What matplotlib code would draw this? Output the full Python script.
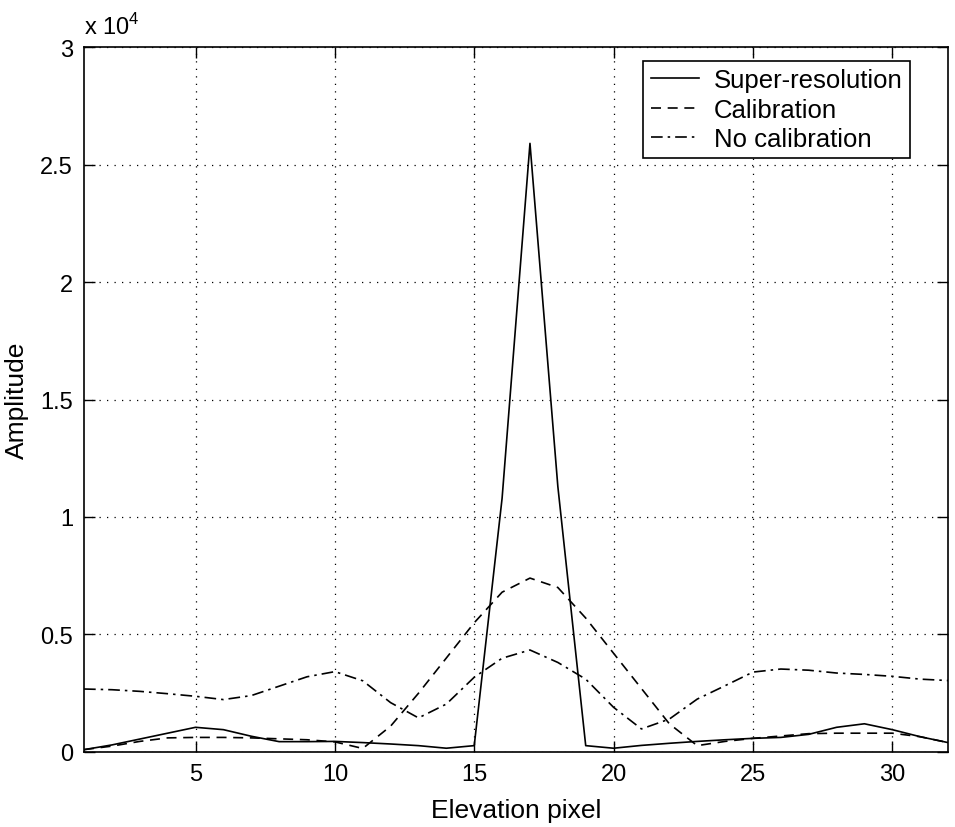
import matplotlib
matplotlib.use('Agg')
from matplotlib import pyplot as plt
from matplotlib.ticker import FuncFormatter
import numpy as np

plt.rcParams['font.family'] = ['Liberation Sans', 'DejaVu Sans']
plt.rcParams['mathtext.fontset'] = 'custom'
plt.rcParams['mathtext.rm'] = 'Liberation Sans'

# elevation pixel index
pixels = np.arange(1, 33)

# amplitudes
super_res = [100, 300, 550, 800, 1050, 950, 670, 440, 440, 450, 400, 340, 270, 160, 270, 10800,
             25900, 11300, 270, 160, 280, 370, 450, 520, 580, 620, 750, 1050, 1200, 950, 650, 400]
calibration = [100, 250, 450, 600, 620, 620, 600, 560, 520, 430, 150, 1100, 2500, 4000, 5500, 6800,
               7400, 7000, 5700, 4200, 2700, 1200, 270, 450, 580, 680, 780, 800, 800, 800, 650, 400]
no_cal = [2680, 2650, 2580, 2480, 2370, 2230, 2400, 2800, 3200, 3420, 3030, 2100, 1450, 2040, 3180, 3990,
          4340, 3810, 3100, 1900, 980, 1400, 2250, 2820, 3400, 3530, 3480, 3360, 3300, 3220, 3100, 3040]

labels = ['Super-resolution', 'Calibration', 'No calibration']
xticks = [5, 10, 15, 20, 25, 30]
yticks = [0, 5000, 10000, 15000, 20000, 25000, 30000]

fig = plt.figure(figsize=(9.55, 8.28), dpi=100)
ax = fig.add_axes([0.088, 0.0906, 0.9047, 0.8514])

lw = 1.2
ax.plot(pixels, super_res, color='black', lw=lw, linestyle='-', label=labels[0])
ax.plot(pixels, calibration, color='black', lw=lw, linestyle=(0, (6, 4)), label=labels[1])
ax.plot(pixels, no_cal, color='black', lw=lw, linestyle=(0, (7, 3, 1.5, 3)), label=labels[2])

ax.set_xlim(1, 32)
ax.set_ylim(0, 30000)
ax.set_xticks(xticks)
ax.set_yticks(yticks)
ax.yaxis.set_major_formatter(FuncFormatter(lambda v, p: '%g' % (v / 1e4)))

ax.grid(True, color='black', linestyle=(0, (1, 5)), lw=0.9)
ax.tick_params(direction='in', length=8, width=1, top=True, right=True,
               labelsize=17, pad=8)
for s in ax.spines.values():
    s.set_linewidth(1.2)

ax.set_xlabel('Elevation pixel', fontsize=19, labelpad=9)
ax.set_ylabel('Amplitude', fontsize=19, labelpad=8)
ax.text(0.0, 1.012, r'x 10$^{4}$', transform=ax.transAxes, fontsize=17,
        ha='left', va='bottom')

leg = ax.legend(loc='upper right', bbox_to_anchor=(0.956, 0.9806), borderaxespad=0,
                fontsize=18.5, fancybox=False, edgecolor='black', framealpha=1,
                handlelength=1.85, handletextpad=0.58, labelspacing=0.2, borderpad=0.3)
leg.get_frame().set_linewidth(1.2)

fig.savefig('out.png', dpi=100)
